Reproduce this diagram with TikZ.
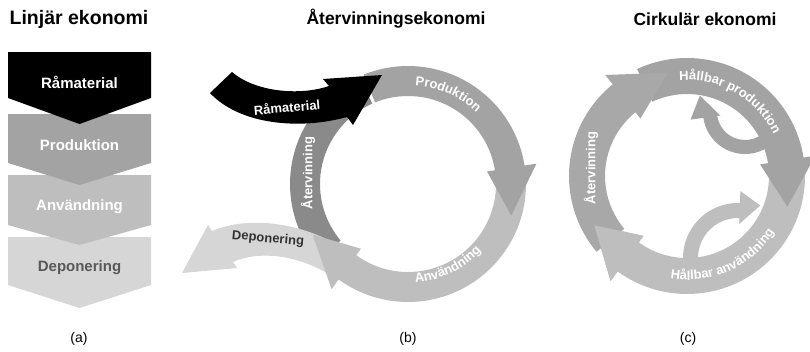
\documentclass[tikz,border=0pt]{standalone}
\usepackage{fontspec}
\setmainfont{Liberation Sans}
\usepackage{tikz}
\usetikzlibrary{decorations.text}

\definecolor{rawblack}{HTML}{000000}
\definecolor{prodgray}{HTML}{A3A3A3}
\definecolor{usegray}{HTML}{BEBEBE}
\definecolor{depgray}{HTML}{D6D6D6}
\definecolor{recgray}{HTML}{8A8A8A}
\definecolor{circgray}{HTML}{A8A8A8}
\definecolor{deptext}{HTML}{595959}

\newcommand{\ringfont}{\fontsize{13}{15}\selectfont\bfseries\color{white}}
\newcommand{\ringband}[6]{\fill[#6,shift={(#1)}] ({#4}:#3) arc[start angle={#4},end angle={#5},radius=#3] -- ({#5}:#2) arc[start angle={#5},end angle={#4},radius=#2] -- cycle;}
\newcommand{\ringhead}[6]{\fill[#6,shift={(#1)}] ({#4}:{#3+12}) -- ({#5}:{(#2+#3)/2+5}) -- ({#4}:{#2-8}) -- cycle;}
\newcommand{\ringarrow}[7]{\ringband{#1}{#2}{#3}{#4}{#5+1}{#7}\ringhead{#1}{#2}{#3}{#5}{#6}{#7}}

\tikzset{
  title/.style={font=\fontsize{17.5}{20}\selectfont\bfseries},
  caption/.style={font=\fontsize{14}{16}\selectfont},
  chevtext/.style={font=\fontsize{15}{17}\selectfont\bfseries, text=white},
  ringlabel/.style={font=\fontsize{13}{15}\selectfont\bfseries, text=white},
  ringtext/.style={decorate, decoration={text along path, text align=center, text={|\ringfont|#1}}}
}

\begin{document}
\begin{tikzpicture}[x=1pt, y=-1pt]
\useasboundingbox (0,0) rectangle (810,351);

\fill[depgray] (8,237) -- (151,237) -- (151,285) -- (79.5,308) -- (8,285) -- cycle;
\fill[usegray] (8,175) -- (151,175) -- (151,225) -- (79.5,245) -- (8,225) -- cycle;
\fill[prodgray] (8,114) -- (151,114) -- (151,163) -- (79.5,185) -- (8,163) -- cycle;
\fill[rawblack] (8,52) -- (151,52) -- (151,98) -- (79.5,124) -- (8,98) -- cycle;

\node[title, font=\fontsize{19.5}{22}\selectfont\bfseries] (titleA) at (79,19) {Linjär ekonomi};
\node[chevtext] (rawA) at (79.5,82) {Råmaterial};
\node[chevtext] (prodA) at (79.5,145) {Produktion};
\node[chevtext] (useA) at (79.5,207) {Användning};
\node[chevtext, text=deptext] (depA) at (79.5,268) {Deponering};
\node[caption] (capA) at (79,339) {(a)};

\ringband{408,184}{88}{118}{140}{246}{recgray}
\fill[depgray] (334,243) .. controls (300,224) and (250,215) .. (212,231) -- (208,225) -- (182,273) -- (237,268) -- (233,262) .. controls (260,250) and (300,255) .. (333,277) -- cycle;
\ringarrow{408,184}{88}{118}{-5}{126}{152}{usegray}
\ringarrow{408,184}{88}{118}{248}{351}{377}{prodgray}
\fill[rawblack] (232,72) .. controls (255,92) and (300,96) .. (329,86) -- (323,79) -- (382,75) -- (353,125) -- (347,117) .. controls (300,130) and (240,125) .. (210,93) -- cycle;

\node[title] (titleB) at (396,19) {Återvinningsekonomi};
\path[shift={(408,184)}, ringtext=Produktion] (258:99) arc[start angle=258, end angle=330, radius=99];
\path[shift={(408,184)}, ringtext=Användning] (100:99) arc[start angle=100, end angle=28, radius=99];
\node[ringlabel, rotate=90] (recB) at (308,173) {Återvinning};
\node[ringlabel, rotate=5] (rawB) at (287,107) {Råmaterial};
\node[ringlabel, rotate=-5, text=black!80] (depB) at (268,239) {Deponering};
\node[caption] (capB) at (408,339) {(b)};

\ringarrow{687,176}{82}{118}{-5}{126}{152}{usegray}
\ringarrow{687,176}{82}{118}{245}{351}{377}{prodgray}
\ringarrow{687,176}{82}{118}{140}{231}{259.5}{circgray}
\ringhead{687,176}{82}{118}{126}{152}{usegray}
\fill[prodgray, shift={(745,112)}] (40:42) arc[start angle=40, end angle=172, radius=42] -- (172:55) -- (200:48) -- (172:25) -- (172:28) arc[start angle=172, end angle=40, radius=28] -- cycle;
\fill[usegray, shift={(738,258)}] (160:55) arc[start angle=160, end angle=272, radius=55] -- (272:67) -- (293:57) -- (272:34) -- (272:40) arc[start angle=272, end angle=160, radius=40] -- cycle;

\node[title] (titleC) at (705,19) {Cirkulär ekonomi};
\path[shift={(687,176)}, ringtext=Hållbar produktion] (250:96) arc[start angle=250, end angle=350, radius=96];
\path[shift={(687,176)}, ringtext=Hållbar användning] (120:104) arc[start angle=120, end angle=12, radius=104];
\node[ringlabel, rotate=90] (recC) at (591,168) {Återvinning};
\node[caption] (capC) at (688,339) {(c)};

\end{tikzpicture}
\end{document}
